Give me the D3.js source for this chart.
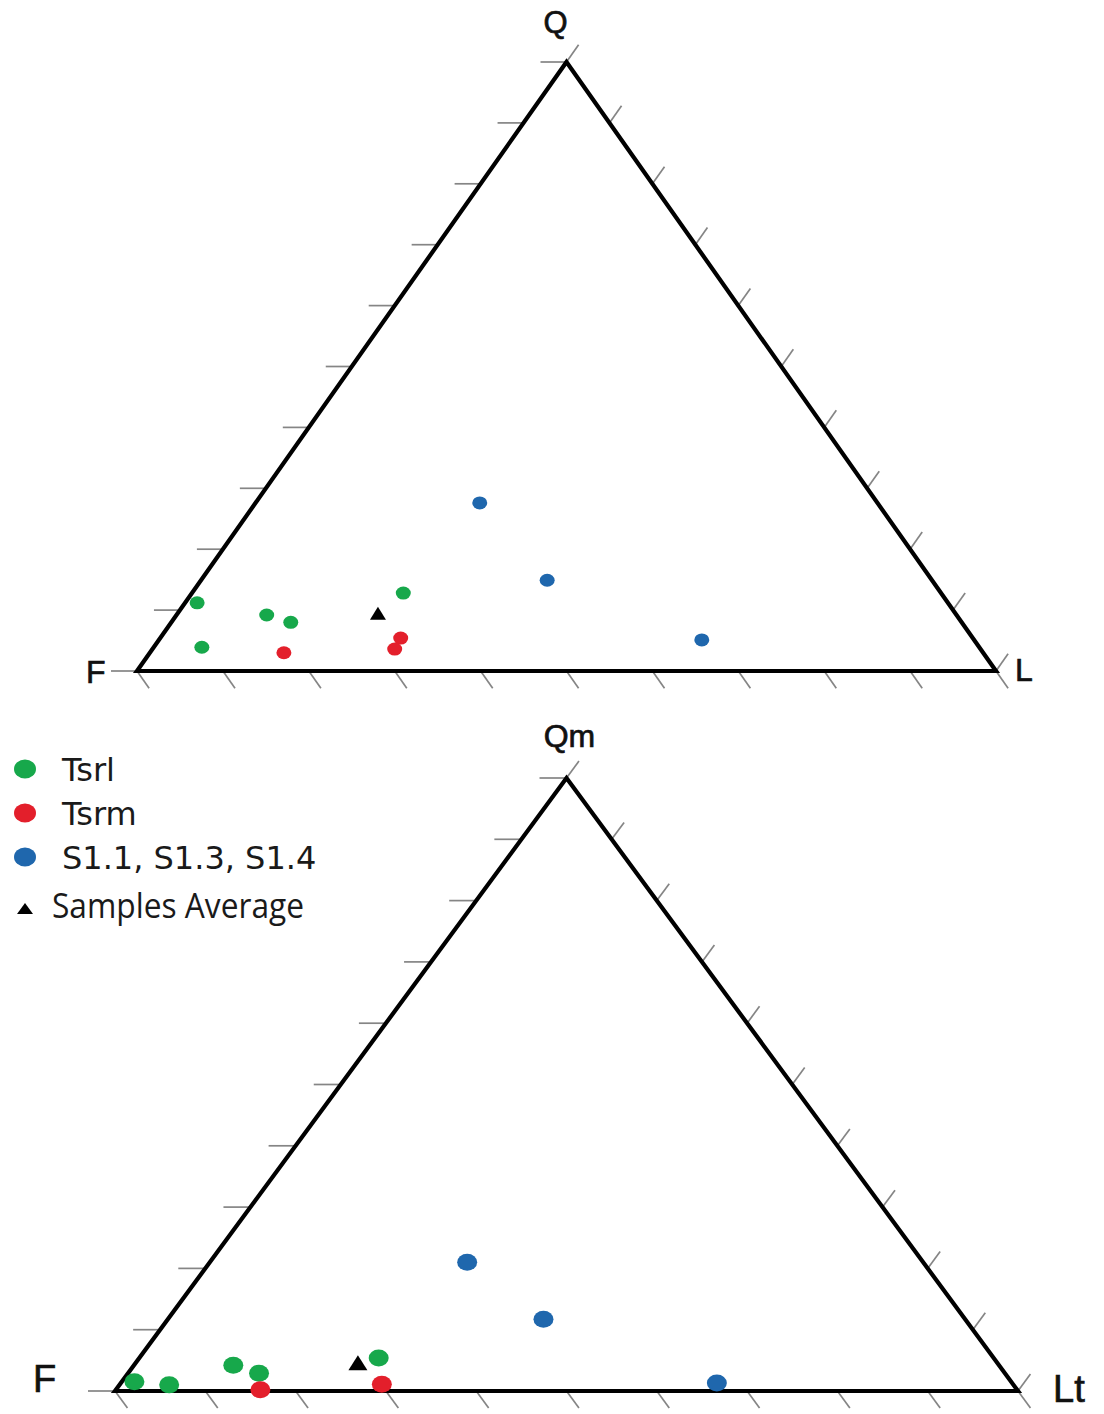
<!DOCTYPE html>
<html>
<head>
<meta charset="utf-8">
<script src="https://cdn.jsdelivr.net/npm/d3@7/dist/d3.min.js"></script>
<style>
  html, body { margin: 0; padding: 0; background: #ffffff; }
  svg { display: block; }
</style>
</head>
<body>
<svg id="chart" width="1104" height="1414"></svg>
<script>
// Vertex labels of the two ternary diagrams: [top, bottom-left, bottom-right]
const qflLabels = ["Q", "F", "L"];
const qmfltLabels = ["Qm", "F", "Lt"];

// Legend entries
const seriesNames = ["Tsrl", "Tsrm", "S1.1, S1.3, S1.4"];
const averageName = "Samples Average";

// Tick values (percent) along each edge
const tickValues = [0, 10, 20, 30, 40, 50, 60, 70, 80, 90, 100];

// QFL compositions, percent [Q, F, L]
const tsrlQFL = [[11.2, 87.4, 1.4], [9.2, 80.3, 10.5], [8.0, 78.1, 13.9], [3.9, 90.5, 5.6], [12.8, 62.6, 24.6]];
const tsrmQFL = [[3.0, 81.4, 15.6], [5.4, 66.6, 28.0], [3.6, 68.2, 28.2]];
const s1QFL   = [[27.6, 46.3, 26.1], [14.9, 44.8, 40.3], [5.1, 31.7, 63.2]];
const avgQFL  = [9.5, 67.2, 23.3];

// QmFLt compositions, percent [Qm, F, Lt]
const tsrlQmFLt = [[1.5, 97.1, 1.4], [1.0, 93.5, 5.5], [4.2, 84.8, 11.0], [2.9, 82.6, 14.5], [5.4, 68.1, 26.5]];
const tsrmQmFLt = [[0.2, 83.8, 16.0], [1.1, 69.9, 29.0]];
const s1QmFLt   = [[21.0, 50.5, 28.5], [11.7, 46.7, 41.6], [1.3, 32.7, 66.0]];
const avgQmFLt  = [4.6, 70.8, 24.6];

const colors = { Tsrl: "#17a84b", Tsrm: "#e31f2b", S1: "#1f67ad" };

const svg = d3.select("#chart");
svg.append("rect").attr("width", 1104).attr("height", 1414).attr("fill", "#ffffff");

function ternary(cfg) {
  const g = svg.append("g");
  // horizontal position of the point = L share + half of the top share
  const x = d3.scaleLinear().domain([0, 100]).range([cfg.left, cfg.right]);
  const y = d3.scaleLinear().domain([0, 100]).range([cfg.base, cfg.apex]);
  const pos = d => [x(d[2] + d[0] / 2), y(d[0])];

  const top = pos([100, 0, 0]), bl = pos([0, 100, 0]), br = pos([0, 0, 100]);

  // ticks: left edge horizontal to the left, bottom edge down-right, right edge up-right
  const dirUpRight = [(top[0] - bl[0]), (top[1] - bl[1])];
  const lenUR = Math.hypot(dirUpRight[0], dirUpRight[1]);
  const dirDownRight = [(br[0] - top[0]), (br[1] - top[1])];
  const lenDR = Math.hypot(dirDownRight[0], dirDownRight[1]);
  const ticks = g.append("g").attr("stroke", "#858585").attr("stroke-width", 1.7).attr("fill", "none");

  tickValues.forEach(v => {
    const p = pos([v, 100 - v, 0]);
    ticks.append("line").attr("x1", p[0]).attr("y1", p[1]).attr("x2", p[0] - cfg.tickLeft).attr("y2", p[1]);
  });
  tickValues.forEach(v => {
    const p = pos([0, 100 - v, v]);
    ticks.append("line").attr("x1", p[0]).attr("y1", p[1])
      .attr("x2", p[0] + dirDownRight[0] / lenDR * cfg.tick).attr("y2", p[1] + dirDownRight[1] / lenDR * cfg.tick);
  });
  tickValues.forEach(v => {
    const p = pos([100 - v, 0, v]);
    ticks.append("line").attr("x1", p[0]).attr("y1", p[1])
      .attr("x2", p[0] + dirUpRight[0] / lenUR * cfg.tick).attr("y2", p[1] + dirUpRight[1] / lenUR * cfg.tick);
  });

  // triangle frame
  g.append("path")
    .attr("d", d3.line()([top, br, bl]) + "Z")
    .attr("fill", "none").attr("stroke", "#000").attr("stroke-width", 4.2).attr("stroke-linejoin", "miter");

  // vertex labels
  const lab = g.append("g").attr("font-family", "'Liberation Sans', Arial, sans-serif")
    .attr("fill", "#111").attr("stroke", "#111").attr("stroke-width", 0.7);
  lab.append("text").attr("x", top[0] + cfg.topDx).attr("y", cfg.topLabelY).attr("text-anchor", "middle")
    .attr("font-size", cfg.topSize).text(cfg.labels[0]);
  lab.append("text").attr("x", cfg.leftLabelX).attr("y", cfg.leftLabelY)
    .attr("font-size", cfg.sideSize).text(cfg.labels[1]);
  lab.append("text").attr("x", cfg.rightLabelX).attr("y", cfg.rightLabelY)
    .attr("font-size", cfg.sideSize).text(cfg.labels[2]);

  // data points
  const pts = g.append("g");
  [[cfg.tsrl, colors.Tsrl], [cfg.tsrm, colors.Tsrm], [cfg.s1, colors.S1]].forEach(([data, c]) => {
    pts.selectAll(null).data(data).join("ellipse")
      .attr("cx", d => pos(d)[0]).attr("cy", d => pos(d)[1])
      .attr("rx", cfg.rx).attr("ry", cfg.ry).attr("fill", c);
  });

  // average marker
  const a = pos(cfg.avg);
  const w = cfg.triW, h = cfg.triH;
  g.append("path")
    .attr("d", `M${a[0] - w / 2},${a[1] + h / 2} L${a[0] + w / 2},${a[1] + h / 2} L${a[0]},${a[1] - h / 2} Z`)
    .attr("fill", "#000");
}

ternary({
  left: 137, right: 996, base: 671, apex: 62,
  labels: qflLabels, tick: 21, tickLeft: 26,
  topDx: -11, topLabelY: 33, topSize: 31,
  leftLabelX: 86, leftLabelY: 683, rightLabelX: 1015, rightLabelY: 681, sideSize: 32,
  tsrl: tsrlQFL, tsrm: tsrmQFL, s1: s1QFL, avg: avgQFL,
  rx: 7.5, ry: 6.5, triW: 16, triH: 13
});

ternary({
  left: 115, right: 1018, base: 1391, apex: 778,
  labels: qmfltLabels, tick: 21, tickLeft: 27,
  topDx: 3, topLabelY: 747, topSize: 32,
  leftLabelX: 33, leftLabelY: 1392, rightLabelX: 1053, rightLabelY: 1402, sideSize: 38,
  tsrl: tsrlQmFLt, tsrm: tsrmQmFLt, s1: s1QmFLt, avg: avgQmFLt,
  rx: 10, ry: 8.5, triW: 19, triH: 15
});

// legend
const legend = svg.append("g").attr("fill", "#1a1a1a");
const legendColors = [colors.Tsrl, colors.Tsrm, colors.S1];
const legendY = d3.scalePoint().domain(seriesNames).range([769, 857]);
seriesNames.forEach((name, i) => {
  legend.append("ellipse").attr("cx", 25).attr("cy", legendY(name)).attr("rx", 11).attr("ry", 9.5).attr("fill", legendColors[i]);
  legend.append("text").attr("x", 62).attr("y", legendY(name) + 12)
    .attr("font-family", "'DejaVu Sans', sans-serif").attr("font-size", 32).text(name);
});
legend.append("path").attr("d", "M17,914 L33,914 L25,903 Z").attr("fill", "#000");
legend.append("text").attr("x", 52).attr("y", 918)
  .attr("font-family", "'Open Sans', sans-serif").attr("font-size", 35)
  .attr("textLength", 252).attr("lengthAdjust", "spacingAndGlyphs").text(averageName);
</script>
</body>
</html>
